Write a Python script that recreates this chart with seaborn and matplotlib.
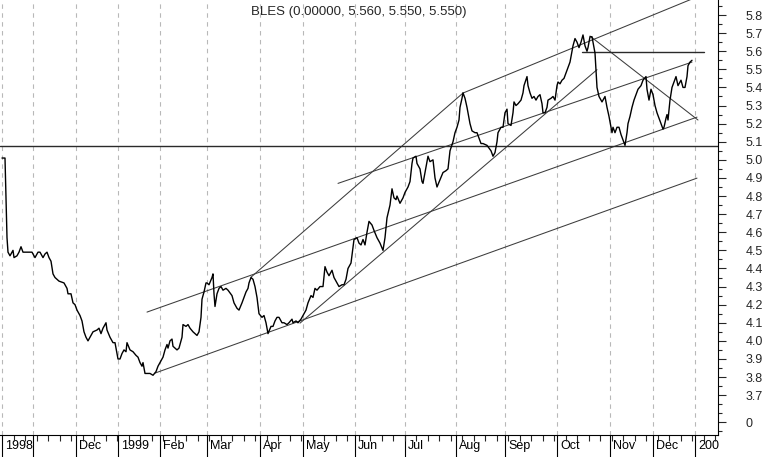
import numpy as np
import pandas as pd
import matplotlib
matplotlib.use("Agg")
import matplotlib.pyplot as plt
import matplotlib.transforms as mtransforms
from matplotlib.ticker import MultipleLocator
import seaborn as sns

# -----------------------------
# price trace (bar position, close)
# -----------------------------
t = [2, 5, 7, 8, 10, 13, 14, 17, 19, 21, 23, 27, 30, 32, 35, 38, 40, 43, 45, 47,
     49, 51, 53, 55, 59, 64, 67, 68, 71, 73, 75, 77, 80, 82, 84, 86, 88, 90, 93, 97,
     99, 101, 103, 106, 107, 110, 113, 115, 116, 118, 120, 122, 124, 126, 127, 130, 133, 136, 138, 140,
     142, 143, 145, 147, 150, 153, 156, 158, 160, 163, 165, 167, 168, 170, 172, 173, 177, 179, 182, 183,
     186, 188, 190, 193, 197, 199, 201, 202, 204, 206, 207, 209, 212, 213, 214, 215, 217, 219, 221, 223,
     226, 228, 232, 234, 237, 239, 242, 244, 246, 248, 249, 251, 253, 255, 257, 259, 262, 264, 266, 268,
     271, 273, 275, 277, 279, 282, 284, 287, 289, 292, 293, 296, 298, 301, 303, 306, 308, 311, 313, 315,
     317, 320, 323, 325, 327, 329, 332, 334, 337, 339, 342, 344, 346, 348, 351, 353, 354, 357, 359, 361,
     363, 365, 367, 369, 372, 374, 377, 380, 383, 385, 387, 390, 392, 394, 396, 397, 400, 403, 405, 408,
     410, 412, 413, 416, 417, 420, 422, 423, 425, 427, 428, 430, 433, 435, 437, 440, 443, 446, 448, 450,
     453, 455, 457, 459, 460, 462, 463, 465, 467, 470, 472, 475, 477, 479, 481, 483, 487, 491, 493, 495,
     497, 498, 501, 503, 505, 507, 508, 511, 513, 514, 516, 518, 521, 523, 524, 527, 528, 530, 532, 534,
     536, 538, 540, 542, 543, 545, 547, 548, 551, 553, 555, 557, 558, 560, 562, 564, 566, 568, 570, 572,
     573, 575, 577, 579, 581, 583, 585, 587, 588, 590, 592, 593, 595, 596, 597, 599, 602, 605, 607, 609,
     612, 613, 615, 617, 619, 621, 623, 625, 627, 628, 630, 632, 634, 636, 638, 641, 643, 646, 647, 649,
     651, 653, 655, 657, 659, 661, 663, 664, 666, 667, 668, 670, 672, 674, 676, 678, 681, 683, 685, 687,
     688, 690, 692]
close = [5.01, 5.01, 4.57, 4.49, 4.47, 4.50, 4.46, 4.47, 4.49, 4.52, 4.49, 4.49, 4.49, 4.49, 4.46, 4.49, 4.49, 4.46, 4.48, 4.49,
         4.46, 4.44, 4.37, 4.35, 4.33, 4.32, 4.29, 4.26, 4.26, 4.21, 4.20, 4.17, 4.14, 4.11, 4.05, 4.02, 4.00, 4.02, 4.05, 4.06,
         4.07, 4.04, 4.07, 4.10, 4.06, 4.02, 3.99, 3.99, 3.96, 3.90, 3.90, 3.93, 3.95, 3.94, 3.99, 3.95, 3.94, 3.92, 3.91, 3.88,
         3.86, 3.88, 3.82, 3.82, 3.82, 3.81, 3.83, 3.86, 3.88, 3.91, 3.95, 3.98, 3.96, 4.00, 4.01, 3.97, 3.95, 3.96, 4.02, 4.09,
         4.08, 4.09, 4.07, 4.05, 4.03, 4.05, 4.13, 4.23, 4.27, 4.32, 4.32, 4.31, 4.35, 4.37, 4.26, 4.19, 4.26, 4.29, 4.30, 4.28,
         4.29, 4.28, 4.25, 4.21, 4.18, 4.17, 4.21, 4.24, 4.27, 4.29, 4.32, 4.35, 4.34, 4.30, 4.24, 4.15, 4.13, 4.14, 4.10, 4.04,
         4.08, 4.08, 4.11, 4.13, 4.13, 4.10, 4.10, 4.09, 4.10, 4.12, 4.10, 4.11, 4.10, 4.12, 4.14, 4.17, 4.21, 4.25, 4.24, 4.29,
         4.28, 4.30, 4.30, 4.41, 4.38, 4.36, 4.39, 4.35, 4.32, 4.30, 4.31, 4.31, 4.34, 4.40, 4.43, 4.52, 4.56, 4.57, 4.54, 4.53,
         4.56, 4.53, 4.60, 4.66, 4.64, 4.61, 4.57, 4.54, 4.50, 4.57, 4.68, 4.75, 4.84, 4.79, 4.78, 4.80, 4.76, 4.79, 4.82, 4.85,
         4.88, 4.98, 5.01, 5.02, 4.98, 4.95, 4.88, 4.87, 4.93, 4.99, 5.02, 4.99, 5.00, 4.90, 4.85, 4.89, 4.93, 4.94, 4.95, 5.05,
         5.10, 5.15, 5.18, 5.22, 5.29, 5.34, 5.37, 5.34, 5.29, 5.20, 5.16, 5.15, 5.15, 5.12, 5.09, 5.09, 5.08, 5.05, 5.02, 5.04,
         5.10, 5.15, 5.18, 5.18, 5.26, 5.28, 5.20, 5.19, 5.26, 5.32, 5.30, 5.31, 5.33, 5.37, 5.41, 5.46, 5.41, 5.37, 5.34, 5.35,
         5.33, 5.35, 5.36, 5.31, 5.26, 5.26, 5.29, 5.33, 5.34, 5.35, 5.33, 5.41, 5.43, 5.42, 5.44, 5.45, 5.48, 5.51, 5.54, 5.60,
         5.63, 5.67, 5.65, 5.62, 5.65, 5.69, 5.63, 5.60, 5.62, 5.68, 5.68, 5.65, 5.59, 5.50, 5.40, 5.35, 5.32, 5.35, 5.29, 5.24,
         5.15, 5.18, 5.15, 5.18, 5.18, 5.14, 5.11, 5.08, 5.15, 5.20, 5.24, 5.29, 5.33, 5.36, 5.39, 5.41, 5.44, 5.46, 5.39, 5.33,
         5.39, 5.36, 5.30, 5.26, 5.23, 5.20, 5.17, 5.18, 5.23, 5.25, 5.22, 5.33, 5.40, 5.43, 5.46, 5.41, 5.44, 5.40, 5.40, 5.46,
         5.52, 5.54, 5.55]

# month boundaries on the bar axis
month_pos = [2, 33, 76, 118, 160, 207, 260, 303, 355, 405, 456, 505, 557, 610, 653, 695]
month_lbl = ["1998", "", "Dec", "1999", "Feb", "Mar", "Apr", "May", "Jun",
             "Jul", "Aug", "Sep", "Oct", "Nov", "Dec", "200"]

# trend lines drawn on the chart: (t0, price0, t1, price1)
channel_lines = [
    (155, 3.822, 697, 4.899),   # lowest channel
    (147, 4.159, 697, 5.236),   # middle channel
    (338, 4.870, 692, 5.540),   # upper channel
    (251, 4.352, 463, 5.369),   # Mar peak -> Aug peak
    (463, 5.369, 697, 5.900),   # top line
    (300, 4.098, 597, 5.498),   # May low steep line
    (590, 5.684, 698, 5.220),   # down line from Oct peak
]
support_level = 5.076
resist_level = (582, 704, 5.596)

title = "BLES (0.00000, 5.560, 5.550, 5.550)"

# -----------------------------
# plot
# -----------------------------
sns.set_style("ticks")
plt.rcParams["font.family"] = ["Liberation Sans", "DejaVu Sans"]

df = pd.DataFrame({"t": t, "close": close})

fig = plt.figure(figsize=(7.66, 4.57), dpi=100)
ax = fig.add_axes([0.0, 22 / 457, 718 / 766, 435 / 457])

for t0, p0, t1, p1 in channel_lines:
    ax.plot([t0, t1], [p0, p1], color="#3c3c3c", lw=0.75, zorder=2)
ax.axhline(support_level, color="#2a2a2a", lw=1.0, zorder=2)
ax.plot([resist_level[0], resist_level[1]], [resist_level[2]] * 2,
        color="#2a2a2a", lw=1.0, zorder=2)

sns.lineplot(data=df, x="t", y="close", ax=ax, color="black", lw=1.0,
             estimator=None, zorder=3)

ax.set_xlim(0, 718)
ax.set_ylim(3.48, 5.883)
ax.set_xlabel("")
ax.set_ylabel("")

# x axis: months with long ticks, labels beside them
ax.set_xticks(month_pos)
ax.set_xticklabels(month_lbl)
ax.set_xticks(np.arange(2, 718, 11.5), minor=True)
ax.tick_params(axis="x", which="major", bottom=True, direction="out", length=16,
               width=0.8, pad=-12.5, labelsize=9, colors="black")
ax.tick_params(axis="x", which="minor", bottom=True, direction="out", length=4, width=0.8)
shift = mtransforms.ScaledTranslation(3 / 100, 0, fig.dpi_scale_trans)
for lbl in ax.get_xticklabels():
    lbl.set_horizontalalignment("left")
    lbl.set_transform(lbl.get_transform() + shift)

# y axis on the right
yt = [3.55] + list(np.round(np.arange(3.7, 5.81, 0.1), 1))
ylab = ["0"] + ["%.1f" % v for v in yt[1:]]
ax.yaxis.tick_right()
ax.set_yticks(yt)
ax.set_yticklabels(ylab)
ax.yaxis.set_minor_locator(MultipleLocator(0.05))
ax.tick_params(axis="y", which="major", right=True, left=False, direction="out",
               length=6, width=0.8, pad=14, labelsize=9)
ax.tick_params(axis="y", which="minor", right=True, left=False, direction="out",
               length=3, width=0.8)

ax.grid(axis="x", which="major", color="#b8b8b8", linestyle=(0, (4, 4)), lw=0.8)
ax.grid(axis="y", visible=False)

for side in ["left", "top"]:
    ax.spines[side].set_visible(False)
for side in ["right", "bottom"]:
    ax.spines[side].set_color("black")
    ax.spines[side].set_linewidth(0.8)

fig.text(359 / 766, 1 - 12 / 457, title, ha="center", va="center", fontsize=9.5)

fig.savefig("out.png", dpi=100)
